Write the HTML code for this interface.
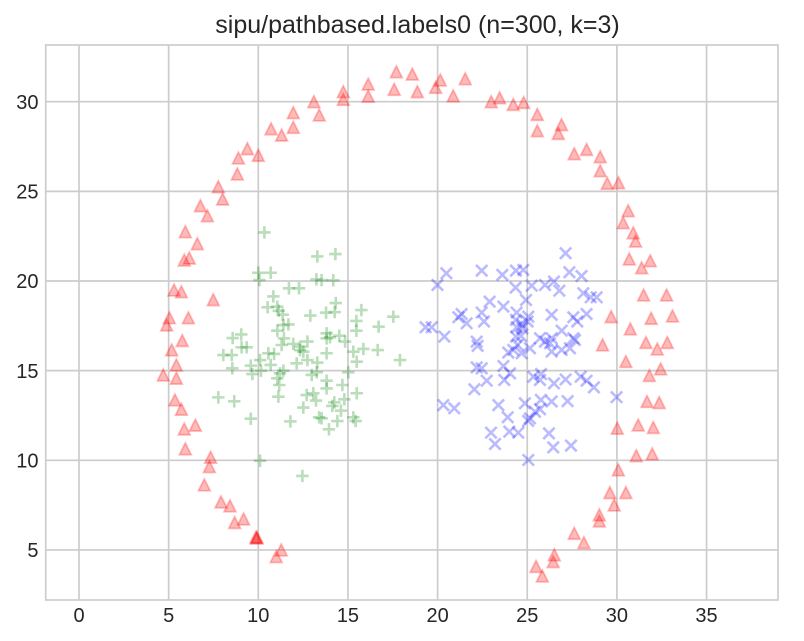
<!DOCTYPE html>
<html>
<head>
<meta charset="utf-8">
<title>sipu/pathbased.labels0</title>
<style>
html,body{margin:0;padding:0;background:#fff;width:804px;height:641px;overflow:hidden}
svg{display:block}
text{font-family:"Liberation Sans",Arial,sans-serif;fill:#262626}
</style>
</head>
<body>
<svg id="chart" width="804" height="641" viewBox="0 0 804 641" xmlns="http://www.w3.org/2000/svg">
<rect x="0" y="0" width="804" height="641" fill="#fff"/>
<text x="417.5" y="33" font-size="25" text-anchor="middle">sipu/pathbased.labels0 (n=300, k=3)</text>
<g id="grid"></g>
<rect x="45.7" y="45" width="732.3" height="555" fill="none" stroke="#ccc" stroke-width="1.7"/>
<g id="ticks"></g>
<g id="marks"></g>
</svg>
<script>
const xTickValues = [0,5,10,15,20,25,30,35];
const yTickValues = [5,10,15,20,25,30];
const triangleCluster = [
[17.70,31.67],[16.13,30.98],[17.58,30.69],[16.13,30.31],[14.74,30.56],[14.74,30.13],[13.10,30.00],[13.40,29.26],[11.95,29.39],[11.95,28.57],
[10.71,28.49],[11.30,28.14],[9.39,27.38],[10.00,27.01],[8.89,26.86],[8.83,25.97],[7.77,25.26],[8.01,24.57],[6.77,24.20],[7.16,23.64],
[5.93,22.75],[6.60,22.08],[6.15,21.28],[5.87,21.17],[5.30,19.50],[5.71,19.40],[7.49,18.96],[5.04,17.95],[4.89,17.55],[6.10,17.95],
[5.76,16.68],[5.17,16.16],[5.43,15.32],[4.70,14.76],[5.43,14.58],[5.35,13.37],[5.71,12.85],[5.87,11.75],[6.49,11.96],[5.93,10.64],
[7.34,10.17],[7.27,9.65],[6.99,8.63],[7.92,7.68],[8.42,7.46],[8.68,6.53],[9.18,6.73],[9.87,5.72],[9.90,5.66],[9.93,5.70],
[11.28,5.00],[11.00,4.63],[18.59,31.54],[18.87,30.56],[19.89,30.80],[20.15,31.21],[20.87,30.33],[21.54,31.28],[22.99,30.00],[23.46,30.22],
[24.22,29.85],[24.80,29.96],[25.56,29.29],[25.56,28.38],[26.91,28.72],[26.73,28.23],[27.62,27.10],[28.31,27.34],[29.07,26.93],[29.07,26.15],
[29.46,25.45],[30.09,25.48],[30.63,23.92],[30.35,23.25],[30.91,22.69],[31.04,22.23],[30.69,21.23],[31.38,20.74],[31.86,21.13],[31.49,19.22],
[32.77,19.22],[29.68,18.01],[31.91,17.92],[33.10,18.05],[30.75,17.33],[29.20,16.44],[31.62,16.57],[32.25,16.21],[32.81,16.57],[30.50,15.51],
[31.81,14.73],[32.44,15.10],[31.68,13.28],[32.36,13.22],[30.02,11.79],[31.19,11.97],[32.03,11.83],[31.08,10.26],[31.97,10.36],[30.08,9.47],
[29.61,8.20],[30.50,8.20],[29.85,7.51],[29.02,6.96],[29.02,6.62],[27.62,5.93],[28.16,5.41],[26.51,4.73],[26.45,4.35],[25.49,4.08],[25.84,3.55]
];
const plusCluster = [
[10.34,22.71],[13.29,21.37],[14.30,21.50],[10.00,20.46],[10.69,20.46],[10.06,20.05],[13.24,20.09],[13.53,20.05],[14.18,20.04],[11.71,19.59],
[12.27,19.59],[10.84,19.14],[14.32,18.77],[10.52,18.53],[11.06,18.57],[11.14,18.34],[13.78,18.23],[14.26,18.27],[15.75,18.38],[12.90,18.07],
[11.36,18.12],[15.47,17.77],[17.53,18.01],[16.71,17.45],[11.68,17.58],[11.40,17.54],[11.06,17.23],[15.47,17.23],[8.57,16.82],[9.05,17.02],
[13.81,17.08],[14.52,16.95],[11.43,16.80],[12.74,16.62],[13.81,16.80],[14.00,16.86],[14.84,16.62],[11.95,16.49],[11.30,16.43],[12.33,16.34],
[9.07,16.30],[9.35,16.30],[8.05,15.87],[8.52,15.87],[8.55,15.13],[9.58,15.28],[9.67,14.81],[10.10,15.59],[10.15,15.00],[10.56,15.97],
[10.88,15.93],[10.69,15.32],[11.40,15.00],[11.21,14.85],[11.06,14.57],[11.17,14.20],[11.12,13.55],[7.77,13.51],[8.66,13.29],[9.58,12.32],
[11.79,12.17],[10.10,9.98],[12.46,9.13],[12.33,16.15],[12.51,16.06],[12.14,15.41],[12.74,15.59],[13.29,15.45],[12.98,14.76],[13.26,14.91],
[13.81,15.97],[13.81,14.44],[13.81,14.01],[14.69,14.20],[15.02,14.91],[15.49,13.74],[14.80,13.40],[12.70,13.64],[13.07,13.74],[13.22,13.33],
[12.51,12.94],[14.24,13.23],[14.13,13.03],[14.61,12.77],[13.39,12.40],[13.53,12.34],[14.41,12.19],[13.94,11.73],[15.30,12.40],[15.43,12.19],
[15.30,16.06],[15.86,16.21],[16.66,16.15],[15.49,15.50],[17.90,15.59]
];
const crossCluster = [
[27.14,21.55],[20.49,20.43],[19.99,19.78],[22.46,20.58],[23.61,20.34],[24.37,20.58],[24.78,20.62],[27.35,20.49],[28.03,20.28],[26.49,19.97],
[24.35,19.63],[25.25,19.74],[25.99,19.78],[26.79,19.46],[28.13,19.32],[28.54,19.09],[28.87,19.09],[24.93,18.94],[22.90,18.85],[23.67,18.57],
[21.34,18.16],[22.46,18.24],[24.41,18.24],[26.36,18.11],[28.31,18.16],[25.06,18.01],[27.57,17.98],[21.16,17.98],[21.62,17.64],[22.59,17.74],
[24.73,17.55],[24.37,17.83],[25.02,17.74],[27.79,17.74],[19.33,17.42],[19.67,17.42],[20.38,16.90],[24.41,17.42],[24.73,17.36],[26.92,17.23],
[27.57,16.81],[24.37,16.90],[24.65,16.94],[22.18,16.62],[22.23,16.38],[25.71,16.81],[25.99,16.62],[26.36,16.81],[26.27,16.53],[24.46,16.43],
[25.15,16.25],[23.94,16.01],[24.22,16.16],[24.69,15.97],[26.92,16.16],[27.38,16.25],[27.66,16.71],[26.36,16.06],[22.18,15.18],[22.46,15.13],
[23.67,15.26],[24.04,14.85],[23.72,14.48],[22.74,14.44],[22.05,13.96],[25.34,14.66],[25.77,14.81],[25.71,14.48],[26.49,14.29],[27.14,14.51],
[27.98,14.66],[28.31,14.44],[28.72,14.07],[29.98,13.52],[20.32,13.08],[20.93,12.90],[23.39,13.08],[24.87,13.18],[25.76,13.37],[26.36,13.28],
[27.25,13.30],[25.71,12.85],[23.91,12.40],[25.15,12.34],[25.43,12.71],[25.05,12.20],[22.98,11.54],[24.00,11.60],[24.50,11.54],[26.21,11.50],
[23.20,10.91],[26.45,10.72],[27.44,10.82],[25.06,10.02]
];

const SVG_NS = 'http://www.w3.org/2000/svg';
const pxPerUnit = 17.93;
function xScale(v){ return 79 + pxPerUnit * v; }
function yScale(v){ return 639.6 - pxPerUnit * v; }

const gridGroup = document.getElementById('grid');
const tickGroup = document.getElementById('ticks');
const markGroup = document.getElementById('marks');

xTickValues.forEach(function(v){
  const line = document.createElementNS(SVG_NS, 'line');
  
  
  line.setAttribute('x1', xScale(v));
  line.setAttribute('x2', xScale(v));
  line.setAttribute('y1', 45);
  line.setAttribute('y2', 600);
  line.setAttribute('stroke', '#ccc');
  line.setAttribute('stroke-width', 1.7);
  gridGroup.appendChild(line);
  const label = document.createElementNS(SVG_NS, 'text');
  
  
  label.setAttribute('x', xScale(v));
  label.setAttribute('y', 622);
  label.setAttribute('font-size', 20);
  label.setAttribute('text-anchor', 'middle');
  label.textContent = String(v);
  tickGroup.appendChild(label);
});

yTickValues.forEach(function(v){
  const line = document.createElementNS(SVG_NS, 'line');
  
  
  line.setAttribute('x1', 45.7);
  line.setAttribute('x2', 778);
  line.setAttribute('y1', yScale(v));
  line.setAttribute('y2', yScale(v));
  line.setAttribute('stroke', '#ccc');
  line.setAttribute('stroke-width', 1.7);
  gridGroup.appendChild(line);
  const label = document.createElementNS(SVG_NS, 'text');
  
  
  label.setAttribute('x', 38.5);
  label.setAttribute('y', yScale(v) + 7.2);
  label.setAttribute('font-size', 20);
  label.setAttribute('text-anchor', 'end');
  label.textContent = String(v);
  tickGroup.appendChild(label);
});

function trianglePath(cx, cy){
  const r = 5.9;
  return 'M' + cx + ' ' + (cy - r) + 'L' + (cx - r) + ' ' + (cy + r) + 'L' + (cx + r) + ' ' + (cy + r) + 'Z';
}
function crossPath(cx, cy){
  const r = 5.7;
  return 'M' + (cx - r) + ' ' + (cy - r) + 'L' + (cx + r) + ' ' + (cy + r) + 'M' + (cx - r) + ' ' + (cy + r) + 'L' + (cx + r) + ' ' + (cy - r);
}
function plusPath(cx, cy){
  const r = 6.2;
  return 'M' + (cx - r) + ' ' + cy + 'L' + (cx + r) + ' ' + cy + 'M' + cx + ' ' + (cy - r) + 'L' + cx + ' ' + (cy + r);
}

triangleCluster.forEach(function(d){
  const p = document.createElementNS(SVG_NS, 'path');
  
  
  p.setAttribute('d', trianglePath(xScale(d[0]), yScale(d[1])));
  p.setAttribute('fill', '#ff0000');
  p.setAttribute('fill-opacity', 0.27);
  p.setAttribute('stroke', '#ff0000');
  p.setAttribute('stroke-opacity', 0.25);
  p.setAttribute('stroke-width', 1.8);
  markGroup.appendChild(p);
});
plusCluster.forEach(function(d){
  const p = document.createElementNS(SVG_NS, 'path');
  
  
  p.setAttribute('d', plusPath(xScale(d[0]), yScale(d[1])));
  p.setAttribute('fill', 'none');
  p.setAttribute('stroke', '#008000');
  p.setAttribute('stroke-opacity', 0.27);
  p.setAttribute('stroke-width', 2.6);
  markGroup.appendChild(p);
});
crossCluster.forEach(function(d){
  const p = document.createElementNS(SVG_NS, 'path');
  
  
  p.setAttribute('d', crossPath(xScale(d[0]), yScale(d[1])));
  p.setAttribute('fill', 'none');
  p.setAttribute('stroke', '#0000ff');
  p.setAttribute('stroke-opacity', 0.27);
  p.setAttribute('stroke-width', 2.6);
  markGroup.appendChild(p);
});
</script>
</body>
</html>
